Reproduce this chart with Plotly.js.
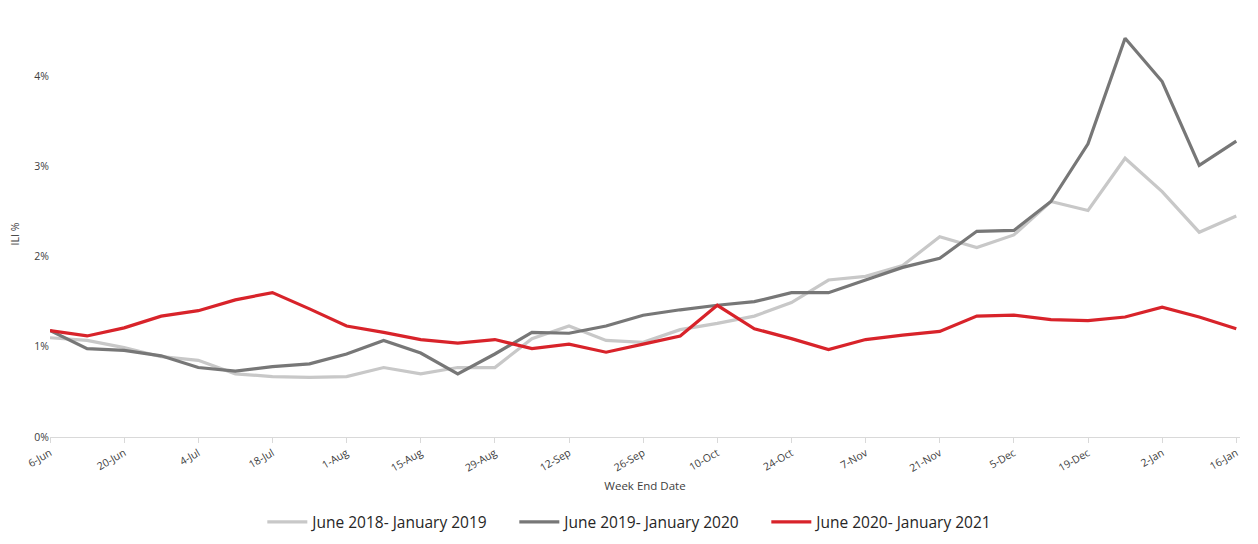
<!DOCTYPE html>
<html>
<head>
<meta charset="utf-8">
<script src="https://cdn.plot.ly/plotly-3.0.1.min.js"></script>
<style>html,body{margin:0;padding:0;background:#fff;}#chart{width:1258px;height:544px;}</style>
</head>
<body>
<div id="chart"></div>
<script>
const weeks = ["6-Jun","13-Jun","20-Jun","27-Jun","4-Jul","11-Jul","18-Jul","25-Jul","1-Aug","8-Aug","15-Aug","22-Aug","29-Aug","5-Sep","12-Sep","19-Sep","26-Sep","3-Oct","10-Oct","17-Oct","24-Oct","31-Oct","7-Nov","14-Nov","21-Nov","28-Nov","5-Dec","12-Dec","19-Dec","26-Dec","2-Jan","9-Jan","16-Jan"];
const tickLabels = ["6-Jun","20-Jun","4-Jul","18-Jul","1-Aug","15-Aug","29-Aug","12-Sep","26-Sep","10-Oct","24-Oct","7-Nov","21-Nov","5-Dec","19-Dec","2-Jan","16-Jan"];
const season2018 = [1.10,1.07,0.99,0.89,0.85,0.70,0.67,0.66,0.67,0.77,0.70,0.77,0.77,1.09,1.23,1.07,1.05,1.19,1.26,1.34,1.49,1.74,1.78,1.90,2.22,2.10,2.24,2.61,2.51,3.09,2.72,2.27,2.45];
const season2019 = [1.18,0.98,0.96,0.90,0.77,0.73,0.78,0.81,0.92,1.07,0.93,0.70,0.92,1.16,1.15,1.23,1.35,1.41,1.46,1.50,1.60,1.60,1.74,1.88,1.98,2.28,2.29,2.61,3.25,4.42,3.94,3.01,3.28];
const season2020 = [1.18,1.12,1.21,1.34,1.40,1.52,1.60,1.42,1.23,1.16,1.08,1.04,1.08,0.98,1.03,0.94,1.03,1.12,1.46,1.20,1.09,0.97,1.08,1.13,1.17,1.34,1.35,1.30,1.29,1.33,1.44,1.33,1.20];
const seriesNames = ["June 2018- January 2019","June 2019- January 2020","June 2020- January 2021"];
const seriesColors = ["#c8c8c8","#777777","#d8232a"];

const seriesData = [season2018, season2019, season2020];
const traces = seriesData.map((vals, k) => ({
  type: "scatter",
  mode: "lines",
  x: weeks,
  y: vals.map(v => v / 100),
  name: seriesNames[k],
  line: {color: seriesColors[k], width: 3.2},
  hoverinfo: "skip"
}));

const layout = {
  width: 1258,
  height: 544,
  paper_bgcolor: "#ffffff",
  plot_bgcolor: "#ffffff",
  font: {family: "Open Sans, DejaVu Sans, sans-serif", color: "#404040", size: 10},
  margin: {l: 50, r: 18, t: 31, b: 106.5, autoexpand: false},
  showlegend: true,
  legend: {
    orientation: "h",
    xref: "container",
    yref: "container",
    x: 0.509, xanchor: "center",
    y: 0.04, yanchor: "middle",
    font: {family: "Liberation Sans Narrow, Open Sans, sans-serif", size: 15.5, color: "#262626"},
    itemwidth: 40,
    entrywidth: 197,
    entrywidthmode: "pixels",
    traceorder: "normal"
  },
  xaxis: {
    type: "category",
    range: [0, 32.1],
    tickmode: "array",
    tickvals: tickLabels,
    ticktext: tickLabels,
    tickangle: -30,
    ticks: "outside",
    ticklen: 5,
    tickcolor: "#d9d9d9",
    showline: true,
    linecolor: "#d9d9d9",
    linewidth: 1,
    showgrid: false,
    zeroline: false,
    tickfont: {size: 10.5, color: "#404040"},
    title: {text: "Week End Date", font: {size: 11.5, color: "#404040"}, standoff: 8}
  },
  yaxis: {
    range: [0, 0.045],
    tickvals: [0, 0.01, 0.02, 0.03, 0.04],
    tickformat: ".0%",
    showgrid: false,
    zeroline: false,
    showline: false,
    ticks: "",
    tickfont: {size: 10.5, color: "#404040"},
    title: {text: "ILI %", font: {size: 10.5, color: "#404040"}, standoff: 12}
  }
};

Plotly.newPlot("chart", traces, layout, {displayModeBar: false, staticPlot: true});
</script>
</body>
</html>
